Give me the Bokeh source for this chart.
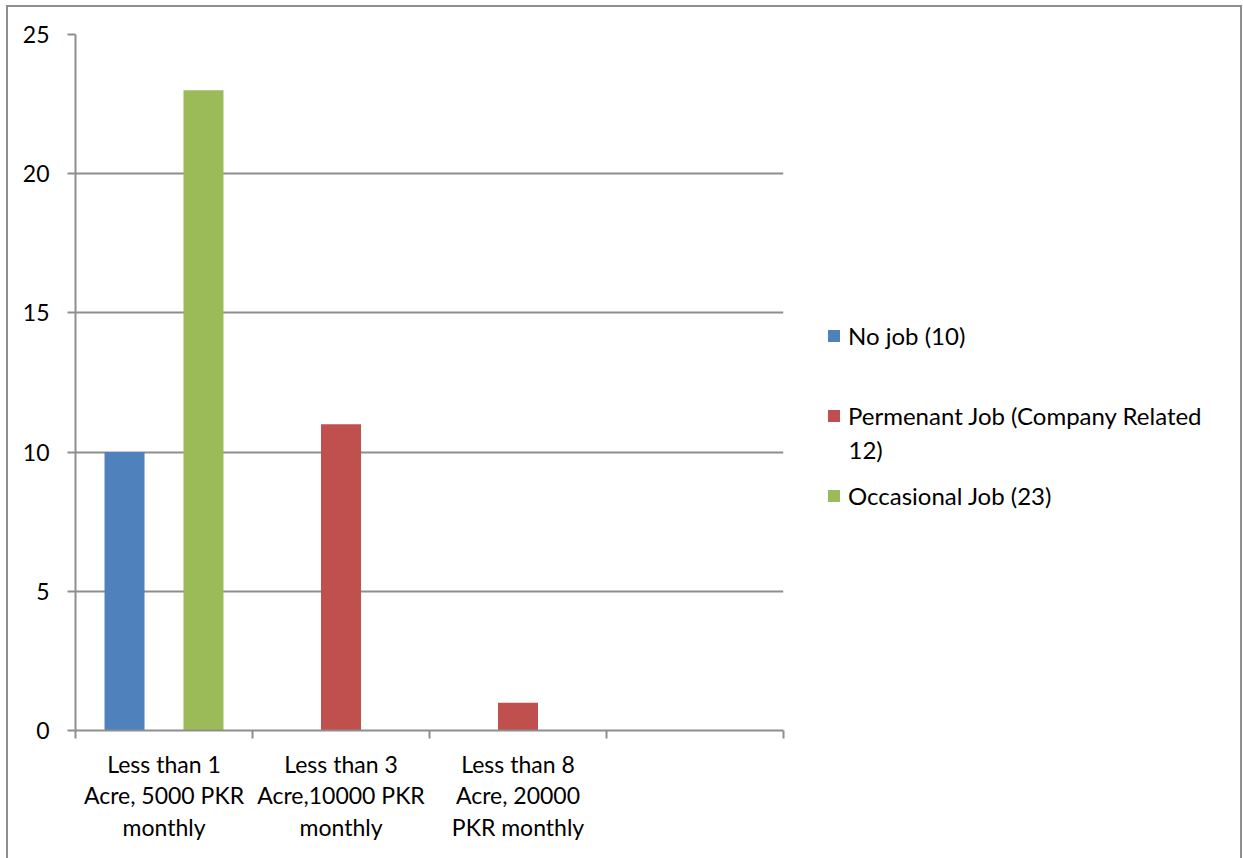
from bokeh.plotting import figure
from bokeh.models import (ColumnDataSource, Range1d, FixedTicker, Legend, LegendItem,
                          Row, InlineStyleSheet, Label)
from bokeh.transform import dodge
from bokeh.embed import file_html
from bokeh.resources import INLINE

categories = ["Less than 1\nAcre, 5000 PKR\nmonthly",
              "Less than 3\nAcre,10000 PKR\nmonthly",
              "Less than 8\nAcre, 20000\nPKR monthly",
              ""]
# legend entries; the second one wraps onto two lines in the original
series_names = [["No job (10)"], ["Permenant Job (Company Related", "12)"], ["Occasional Job (23)"]]
no_job = [10, 0, 0, 0]
permanent_job = [0, 11, 1, 0]
occasional_job = [23, 0, 0, 0]
y_ticks = [0, 5, 10, 15, 20, 25]

colors = ["#4F81BD", "#C0504D", "#9BBB59"]
FONT = "Lato"
FS = "23px"
LFS = "24px"
GREY = "#8E8E8E"
LW = 2

centers = [i + 0.5 for i in range(len(categories))]
src = ColumnDataSource(dict(x=centers, s0=no_job, s1=permanent_job, s2=occasional_job))

W1 = 800
p = figure(width=W1, height=858, x_range=Range1d(0, len(categories)), y_range=Range1d(0, 25),
           output_backend="svg", toolbar_location=None,
           min_border_left=75, min_border_right=W1 - 783, min_border_top=34, min_border_bottom=128)
p.outline_line_color = None
p.background_fill_color = "white"
p.border_fill_color = "white"

offs = [-0.223, 0.0, 0.223]
cols = ["s0", "s1", "s2"]

p.xgrid.grid_line_color = None
p.ygrid.grid_line_color = GREY
p.ygrid.grid_line_width = LW

for k, col in enumerate(cols):
    p.vbar(x=dodge("x", offs[k], range=p.x_range), top=col, width=0.226, source=src,
           fill_color=colors[k], line_color=None)

# axes
p.xaxis.ticker = FixedTicker(ticks=centers, minor_ticks=list(range(len(categories) + 1)))
p.xaxis.major_label_overrides = {c: lab for c, lab in zip(centers, categories)}
p.xaxis.major_tick_line_color = None
p.xaxis.major_tick_out = 0
p.xaxis.minor_tick_line_color = GREY
p.xaxis.minor_tick_line_width = LW
p.xaxis.minor_tick_out = 8
p.xaxis.minor_tick_in = 0
p.xaxis.axis_line_color = GREY
p.xaxis.axis_line_width = LW
p.xaxis.major_label_standoff = 11
p.xaxis.major_label_text_font = FONT
p.xaxis.major_label_text_font_size = FS
p.xaxis.major_label_text_color = "black"
p.xaxis.major_label_text_line_height = 1.13

p.yaxis.ticker = FixedTicker(ticks=y_ticks)
p.yaxis.major_tick_line_color = GREY
p.yaxis.major_tick_line_width = LW
p.yaxis.major_tick_out = 8
p.yaxis.major_tick_in = 0
p.yaxis.minor_tick_line_color = None
p.yaxis.axis_line_color = GREY
p.yaxis.axis_line_width = LW
p.yaxis.major_label_standoff = 18
p.yaxis.major_label_text_font = FONT
p.yaxis.major_label_text_font_size = FS
p.yaxis.major_label_text_color = "black"

# legend panel (right-hand part of the chart area)
q = figure(width=1243 - W1, height=858,
           output_backend="svg", toolbar_location=None,
           x_axis_location=None, y_axis_location=None,
           min_border_left=0, min_border_right=0, min_border_top=0, min_border_bottom=0)
q.outline_line_color = None
q.xgrid.visible = False
q.ygrid.visible = False
q.border_fill_color = "white"
q.background_fill_color = "white"

legend_y = [380, 300, 220]
extra_y = [281]
for k in range(3):
    r = q.vbar(x="x", top=cols[k], width=0.226, source=src, fill_color=colors[k], line_color=None)
    r.visible = False
    lg = Legend(items=[LegendItem(label=series_names[k][0], renderers=[r])],
                location=(26, legend_y[k]), glyph_width=15, glyph_height=15,
                label_standoff=7, padding=0, margin=0, border_line_color=None,
                background_fill_alpha=0, label_text_font=FONT, label_text_font_size=LFS,
                label_text_color="black")
    q.add_layout(lg, "center")
    for extra in series_names[k][1:]:
        q.add_layout(Label(x=48, y=extra_y[0], x_units="screen", y_units="screen", text=extra,
                           text_font=FONT, text_font_size=LFS, text_color="black",
                           text_baseline="middle", text_align="left"))

border_css = InlineStyleSheet(css="""
:host { position: relative; }
:host::after { content: ""; position: absolute; left: 6px; top: 5px; width: 1236px; height: 853px;
  border-left: 2px solid #8E8E8E; border-top: 2px solid #8E8E8E; border-right: 2px solid #8E8E8E;
  box-sizing: border-box; pointer-events: none; }
""")
layout = Row(children=[p, q], spacing=0, stylesheets=[border_css])

open("out.html", "w").write(file_html(layout, INLINE))
